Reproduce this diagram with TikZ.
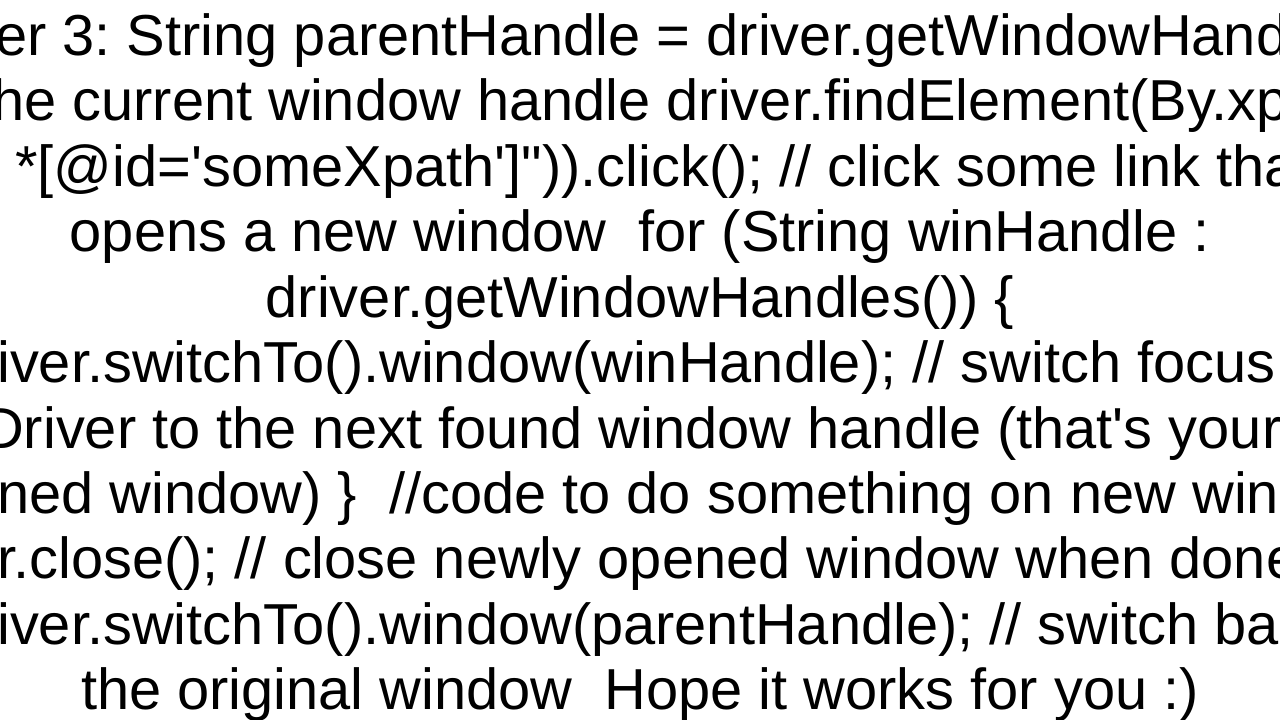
\documentclass[tikz,border=0pt]{standalone}
\usepackage{fontspec}
\newfontfamily\plainsans{Liberation Sans}
\frenchspacing
\begin{document}
\begin{tikzpicture}[x=1pt,y=-1pt,tx/.style={inner sep=0pt,font=\plainsans\fontsize{57.8}{65}\selectfont}]
\useasboundingbox (0,0) rectangle (1280,720);
\clip (0,0) rectangle (1280,720);
\fill[white] (0,0) rectangle (1280,720);
\node[tx,anchor=base west] (l1) at (-5,55) {er 3: String parentHandle = driver.getWindowHandle();};
\node[tx,anchor=base west] (l2) at (-8,120) {he current window handle driver.findElement(By.xpath(};
\node[tx,anchor=base west] (l3) at (15,186) {*[@id='someXpath']")).click(); // click some link that};
\node[tx,anchor=base] (l4) at (640,251) {opens a new window\ \ for (String winHandle :};
\node[tx,anchor=base] (l5) at (640,317) {driver.getWindowHandles()) \{};
\node[tx,anchor=base west] (l6) at (-3,382) {iver.switchTo().window(winHandle); // switch focus of};
\node[tx,anchor=base west] (l7) at (-18,448) {Driver to the next found window handle (that's your};
\node[tx,anchor=base west] (l8) at (-3,513) {ned window) \}\ \ //code to do something on new window};
\node[tx,anchor=base west] (l9) at (-3,578) {r.close(); // close newly opened window when done};
\node[tx,anchor=base west] (l10) at (-3,644) {iver.switchTo().window(parentHandle); // switch back to};
\node[tx,anchor=base] (l11) at (640,709) {the original window\ \ Hope it works for you :)};
\end{tikzpicture}
\end{document}
